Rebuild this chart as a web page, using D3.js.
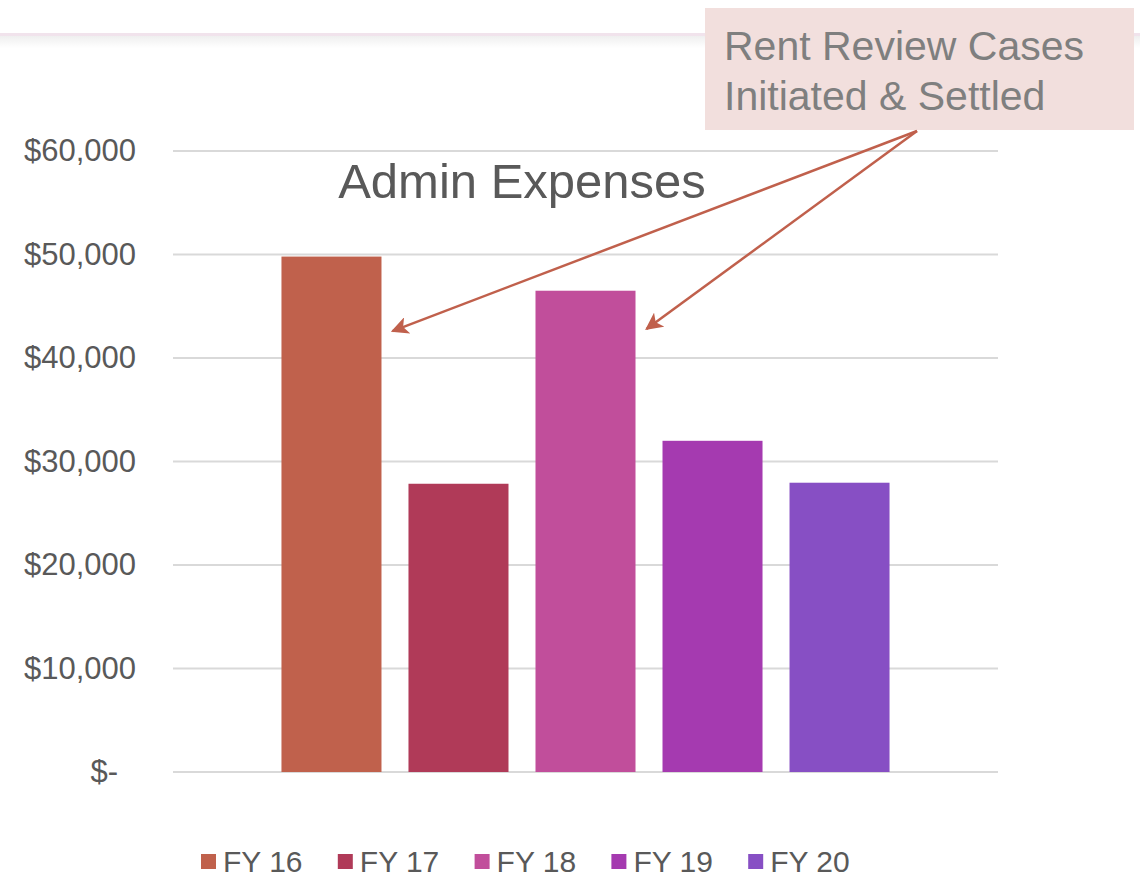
<!DOCTYPE html>
<html lang="en">
	<head>
		<meta charset="utf-8">
		<title>Admin Expenses</title>
		<script src="https://d3js.org/d3.v7.min.js"></script>
		<style>
			body { margin: 0; background: #fff; }
			text { font-family: "Liberation Sans", Arial, sans-serif; }
		</style>
	</head>

	<body>
		<script type="text/javascript">

			// data
			var years = ["FY 16", "FY 17", "FY 18", "FY 19", "FY 20"]
			var expenses = [49800, 27850, 46500, 32000, 27950]
			var colors = ["#c0614c", "#b03a58", "#c14e9b", "#a53ab0", "#874fc4"]
			var ticks = [0, 10000, 20000, 30000, 40000, 50000, 60000]
			var annotation = ["Rent Review Cases", "Initiated & Settled"]
			var arrowTargets = [{year: "FY 16", value: 42600}, {year: "FY 18", value: 42800}]

			// window setup
			var w = 1140
			var h = 879
			var plotLeft = 173, plotRight = 998, plotTop = 151, plotBottom = 772

			var svg = d3.select("body")
						.append("svg")
						.attr("width", w)
						.attr("height", h)

			var defs = svg.append("defs")

			// top header shadow
			var grad = defs.append("linearGradient")
							.attr("id", "shade")
							.attr("x1", 0).attr("x2", 0).attr("y1", 0).attr("y2", 1)
			grad.append("stop").attr("offset", "0%").attr("stop-color", "#efefef")
			grad.append("stop").attr("offset", "100%").attr("stop-color", "#ffffff")

			svg.append("rect")
				.attr("x", 0).attr("y", 36)
				.attr("width", w).attr("height", 12)
				.attr("fill", "url(#shade)")
			svg.append("rect")
				.attr("x", 0).attr("y", 33)
				.attr("width", w).attr("height", 3)
				.attr("fill", "#f1e3ec")

			// scales
			var x = d3.scaleBand()
						.domain(years)
						.range([plotLeft, plotRight])
						.paddingInner(0.2126)
						.paddingOuter(0.854)

			var y = d3.scaleLinear()
						.domain([0, 60000])
						.range([plotBottom, plotTop])

			// gridlines
			svg.selectAll("line.grid")
				.data(ticks)
				.enter()
				.append("line")
				.attr("class", "grid")
				.attr("x1", plotLeft)
				.attr("x2", plotRight)
				.attr("y1", function(d){ return y(d) })
				.attr("y2", function(d){ return y(d) })
				.attr("stroke", "#d9d9d9")
				.attr("stroke-width", 2)

			// y axis labels
			var fmt = d3.format(",")
			var yAxis = d3.axisLeft(y)
							.tickValues(ticks)
							.tickSize(0)
							.tickPadding(37)
							.tickFormat(function(d){ return d === 0 ? "$-" : "$" + fmt(d) })

			var gy = svg.append("g")
						.attr("transform", "translate(" + plotLeft + ",0)")
						.call(yAxis)
			gy.select(".domain").remove()
			gy.selectAll("text")
				.attr("font-size", 31)
				.attr("font-family", "Liberation Sans, Arial, sans-serif")
				.attr("fill", "#595959")
				.attr("dx", function(d){ return d === 0 ? -18 : 0 })

			// bars
			svg.selectAll("rect.bar")
				.data(years)
				.enter()
				.append("rect")
				.attr("class", "bar")
				.attr("x", function(d){ return x(d) })
				.attr("width", x.bandwidth())
				.attr("y", function(d, i){ return y(expenses[i]) })
				.attr("height", function(d, i){ return y(0) - y(expenses[i]) })
				.attr("fill", function(d, i){ return colors[i] })

			// title
			svg.append("text")
				.attr("x", 522)
				.attr("y", 198)
				.attr("text-anchor", "middle")
				.attr("font-size", 49)
				.attr("fill", "#595959")
				.text("Admin Expenses")

			// legend
			var legend = svg.selectAll("g.legend")
							.data(years)
							.enter()
							.append("g")
							.attr("class", "legend")
							.attr("transform", function(d, i){ return "translate(" + (201 + i * 136.8) + ",0)" })
			legend.append("rect")
				.attr("x", 0).attr("y", 854)
				.attr("width", 15).attr("height", 15)
				.attr("fill", function(d, i){ return colors[i] })
			legend.append("text")
				.attr("x", 22).attr("y", 872)
				.attr("font-size", 30)
				.attr("fill", "#595959")
				.text(function(d){ return d })

			// annotation box
			svg.append("rect")
				.attr("x", 705).attr("y", 8)
				.attr("width", 429).attr("height", 122)
				.attr("fill", "#f2dfdd")
			svg.selectAll("text.note")
				.data(annotation)
				.enter()
				.append("text")
				.attr("class", "note")
				.attr("x", 724)
				.attr("y", function(d, i){ return 60 + i * 50 })
				.attr("font-size", 41)
				.attr("fill", "#7f7f7f")
				.text(function(d){ return d })

			// arrows
			defs.append("marker")
				.attr("id", "head")
				.attr("viewBox", "0 0 10 10")
				.attr("refX", 9).attr("refY", 5)
				.attr("markerWidth", 7).attr("markerHeight", 7)
				.attr("markerUnits", "strokeWidth")
				.attr("orient", "auto")
				.append("path")
				.attr("d", "M0,0 L10,5 L0,10 L2.5,5 Z")
				.attr("fill", "#c0604c")

			svg.selectAll("line.arrow")
				.data(arrowTargets)
				.enter()
				.append("line")
				.attr("class", "arrow")
				.attr("x1", 917).attr("y1", 131)
				.attr("x2", function(d){ return x(d.year) + x.bandwidth() + 11 })
				.attr("y2", function(d){ return y(d.value) })
				.attr("stroke", "#c0604c")
				.attr("stroke-width", 2.5)
				.attr("marker-end", "url(#head)")

		</script>

	</body>
</html>
